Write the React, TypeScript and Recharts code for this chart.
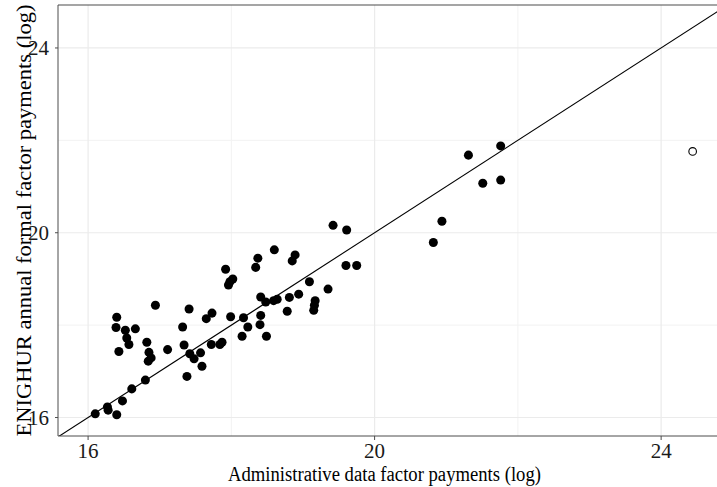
import React from 'react';
import { ScatterChart, Scatter, XAxis, YAxis, ZAxis, ReferenceLine, Label } from 'recharts';

// admin (x) vs ENIGHUR (y), both log scale values
const adminLog = [
    16.10, 16.27, 16.28, 16.40, 16.48, 16.61, 16.80, 16.40, 16.39, 16.52,
    16.66, 16.54, 16.57, 16.43, 16.82, 16.85, 16.88, 16.84, 17.11, 16.94,
    17.41, 17.32, 17.34, 17.42, 17.48, 17.57, 17.59, 17.38, 17.65, 17.73,
    17.72, 17.84, 17.87, 17.92, 18.02, 17.98, 17.96, 17.99, 18.17, 18.23,
    18.15, 18.41, 18.48, 18.59, 18.64, 18.41, 18.40, 18.49, 18.37, 18.34,
    18.60, 18.89, 18.85, 18.81, 18.94, 18.78, 19.09, 19.17, 19.16, 19.15,
    19.35, 19.42, 19.61, 19.60, 19.75, 20.82, 20.94, 21.31, 21.76, 21.51,
    21.76,
];
const enighurLog = [
    16.08, 16.23, 16.16, 16.06, 16.36, 16.62, 16.81, 18.17, 17.95, 17.89,
    17.92, 17.72, 17.58, 17.43, 17.63, 17.41, 17.29, 17.22, 17.47, 18.43,
    18.35, 17.96, 17.57, 17.38, 17.27, 17.40, 17.11, 16.89, 18.14, 18.26,
    17.58, 17.58, 17.63, 19.21, 19.00, 18.94, 18.87, 18.18, 18.16, 17.96,
    17.76, 18.61, 18.50, 18.53, 18.56, 18.21, 18.01, 17.76, 19.45, 19.25,
    19.63, 19.52, 19.39, 18.60, 18.67, 18.30, 18.94, 18.53, 18.43, 18.32,
    18.78, 20.16, 20.06, 19.29, 19.29, 19.79, 20.25, 21.68, 21.88, 21.07,
    21.14,
];
// the outlier drawn as an open circle
const outlierAdmin = [24.44];
const outlierEnighur = [21.76];

const xTicks = [16, 20, 24];
const yTicks = [16, 20, 24];
const minorGrid = [18, 22];
const xDomain: [number, number] = [15.58, 24.78];
const yDomain: [number, number] = [15.6, 24.93];

const xTitle = 'Administrative data factor payments (log)';
const yTitle = 'ENIGHUR annual formal factor payments (log)';

const points = adminLog.map((x, i) => ({ x, y: enighurLog[i] }));
const outliers = outlierAdmin.map((x, i) => ({ x, y: outlierEnighur[i] }));

const FONT = 'Liberation Serif';
const AXIS = '#4d4d4d';

const OpenDot = (props: any) => (
    <circle cx={props.cx} cy={props.cy} r={3.8} fill="#fff" stroke="#000" strokeWidth={1.1} />
);

const XTick = (props: any) => (
    <text x={props.x} y={props.y} dy={14} textAnchor="middle" fill="#1a1a1a"
        fontSize={21} fontFamily={FONT} style={{ fontSize: 21, fontFamily: FONT }}>
        {props.payload.value}
    </text>
);

const YTick = (props: any) => (
    <text x={props.x} y={props.y} dx={-4} dy={7} textAnchor="end" fill="#1a1a1a"
        fontSize={21} fontFamily={FONT} style={{ fontSize: 21, fontFamily: FONT }}>
        {props.payload.value}
    </text>
);

// axis titles, placed from the axis viewBox
const XTitle = ({ viewBox }: any) => (
    <text x={viewBox.x + viewBox.width / 2 - 3} y={viewBox.y + viewBox.height - 6}
        textAnchor="middle" fill="#000" textLength={313} lengthAdjust="spacingAndGlyphs"
        fontSize={20} fontFamily={FONT} style={{ fontSize: 20, fontFamily: FONT }}>
        {xTitle}
    </text>
);

const YTitle = ({ viewBox }: any) => {
    const cx = viewBox.x + 31;
    const cy = viewBox.y + viewBox.height / 2;
    return (
        <text x={cx} y={cy} transform={`rotate(-90 ${cx} ${cy})`}
            textAnchor="middle" fill="#000" textLength={432} lengthAdjust="spacingAndGlyphs"
            fontSize={21} fontFamily={FONT} style={{ fontSize: 21, fontFamily: FONT }}>
            {yTitle}
        </text>
    );
};

export default function App() {
    return (
        <div style={{ position: 'absolute', left: 0, top: 0, background: '#fff', fontFamily: FONT }}>
            <ScatterChart width={717} height={487} margin={{ top: 5, right: 0, left: 0, bottom: 0 }}>
                <XAxis
                    type="number"
                    dataKey="x"
                    domain={xDomain}
                    ticks={xTicks}
                    allowDataOverflow
                    height={51}
                    tickSize={4}
                    tickMargin={4}
                    stroke={AXIS}
                    tick={XTick}
                >
                    <Label content={XTitle} />
                </XAxis>
                <YAxis
                    type="number"
                    dataKey="y"
                    domain={yDomain}
                    ticks={yTicks}
                    allowDataOverflow
                    width={58}
                    tickSize={3}
                    tickMargin={2}
                    stroke={AXIS}
                    tick={YTick}
                >
                    <Label content={YTitle} />
                </YAxis>
                <ZAxis range={[42, 42]} />
                {minorGrid.map(v => (
                    <ReferenceLine key={`mx${v}`} x={v} stroke="#f2f2f2" strokeWidth={1} />
                ))}
                {minorGrid.map(v => (
                    <ReferenceLine key={`my${v}`} y={v} stroke="#f2f2f2" strokeWidth={1} />
                ))}
                {xTicks.map(v => (
                    <ReferenceLine key={`gx${v}`} x={v} stroke="#ebebeb" strokeWidth={1.2} />
                ))}
                {yTicks.map(v => (
                    <ReferenceLine key={`gy${v}`} y={v} stroke="#ebebeb" strokeWidth={1.2} />
                ))}
                <ReferenceLine y={yDomain[1]} stroke={AXIS} strokeWidth={1.2} />
                <ReferenceLine
                    segment={[{ x: 15.5, y: 15.5 }, { x: 25, y: 25 }]}
                    stroke="#000"
                    strokeWidth={1.1}
                    ifOverflow="hidden"
                />
                <Scatter data={points} fill="#000" shape="circle" isAnimationActive={false} />
                <Scatter data={outliers} shape={OpenDot} isAnimationActive={false} />
            </ScatterChart>
        </div>
    );
}
